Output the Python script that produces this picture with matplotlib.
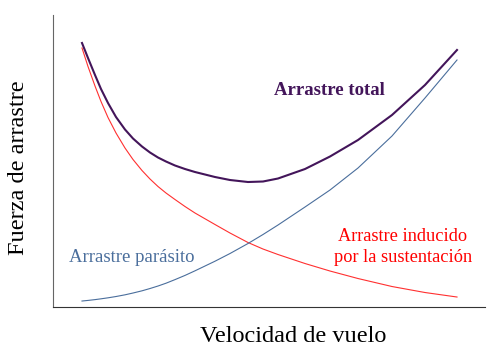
import matplotlib
matplotlib.use("Agg")
import matplotlib.pyplot as plt


# flight speed (arbitrary units) and drag values
speed = [29, 35, 42, 48, 55, 63, 72, 80, 89, 97, 105, 113, 122, 132, 142,
         162, 177, 195, 210, 225, 252, 277, 305, 339, 372, 404]

induced_drag = [259, 240.5, 221, 205.5, 189.5, 174, 159, 147.5, 136.5, 128, 120.5,
                114, 107.5, 100.5, 94, 82.5, 74, 64.5, 58, 52.5, 43.5, 36, 28.5,
                20.5, 14.5, 10]
parasitic_drag = [6, 6.6, 7.4, 8.2, 9.2, 10.5, 12.2, 14, 16.2, 18.5, 21, 23.8,
                  27.4, 31.6, 36.2, 45.8, 53.5, 63.5, 72.5, 82, 100, 117, 139, 171,
                  209, 247]
total_drag = [264, 249, 232, 218, 204, 190, 177.5, 168.5, 160.5, 154.5, 149.5,
              145.5, 141.5, 138, 135, 130, 127, 125, 125.5, 128.5, 138, 150.5,
              167, 192, 222, 257]

plt.rcParams["font.family"] = ["Liberation Serif", "DejaVu Serif"]

fig = plt.figure(figsize=(5, 3.57), dpi=100)
ax = fig.add_axes([0.106, 0.14, 0.864, 0.818])

ax.plot(speed, induced_drag, color="#ff3030", linewidth=0.8)
ax.plot(speed, parasitic_drag, color="#4a6e9c", linewidth=0.8)
ax.plot(speed, total_drag, color="#43155a", linewidth=1.5)

ax.set_xlim(0, 432)
ax.set_ylim(0, 292)

ax.spines["top"].set_visible(False)
ax.spines["right"].set_visible(False)
ax.spines["left"].set_color("#666666")
ax.spines["bottom"].set_color("#333333")
ax.set_xticks([])
ax.set_yticks([])

ax.set_xlabel("Velocidad de vuelo", fontsize=17.5)
ax.set_ylabel("Fuerza de arrastre", fontsize=17.5)
ax.xaxis.set_label_coords(0.555, -0.1, transform=ax.transAxes)
ax.yaxis.set_label_coords(-0.081, 0.477, transform=ax.transAxes)
ax.xaxis.label.set_va("center")
ax.yaxis.label.set_va("center")

ax.text(276, 217, "Arrastre total", color="#43155a", fontsize=13.5,
        fontweight="bold", ha="center", va="center")
ax.text(79, 50, "Arrastre parásito", color="#4a6e9c", fontsize=13.5,
        ha="center", va="center")
ax.text(350, 60, "Arrastre inducido\npor la sustentación", color="#ff0000",
        fontsize=13.2, ha="center", va="center", linespacing=1.35)

fig.savefig("out.png", dpi=100)
